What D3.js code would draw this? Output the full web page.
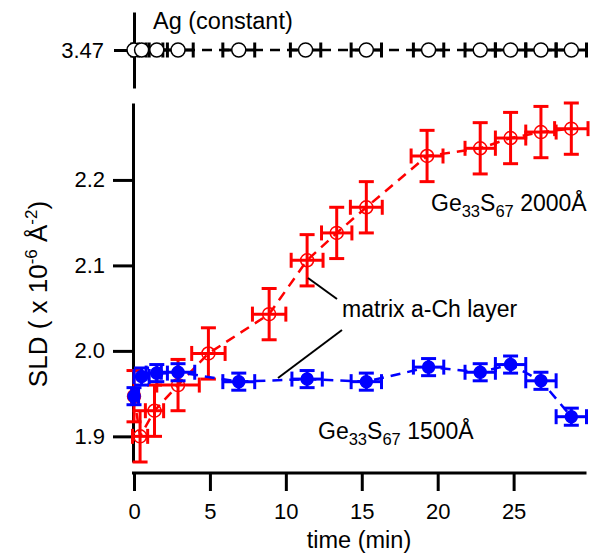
<!DOCTYPE html>
<html><head><meta charset="utf-8">
<script src="https://cdn.jsdelivr.net/npm/d3@7"></script>
<style>
body{margin:0;background:#fff;}
svg{display:block;font-family:"Liberation Sans",Arial,Helvetica,sans-serif;}
</style></head>
<body><svg id="c" width="603" height="558"></svg>
<script>
// ---- data ----
const xTicks = [0, 5, 10, 15, 20, 25];
const yTicks = [1.9, 2.0, 2.1, 2.2];
const agTicks = [3.47];

// Ge33S67 1500Å (filled blue)
const blueTime = [0, 0.5, 1.5, 2.9, 6.9, 11.4, 15.3, 19.4, 22.8, 24.8, 26.8, 28.8];
const blueSLD  = [1.947, 1.970, 1.974, 1.975, 1.964, 1.967, 1.964, 1.981, 1.975, 1.984, 1.965, 1.923];
const blueXErr = [0.3, 0.5, 0.7, 1.1, 1.05, 1.0, 1.0, 1.0, 1.0, 1.0, 1.0, 1.0];
const blueYErr = [0.01, 0.01, 0.01, 0.01, 0.01, 0.01, 0.01, 0.01, 0.01, 0.01, 0.01, 0.01];

// Ge33S67 2000Å (open red)
const redTime = [0, 0.4, 1.35, 2.9, 4.9, 8.9, 11.4, 13.35, 15.3, 19.3, 22.8, 24.8, 26.8, 28.8];
const redSLD  = [1.947, 1.900, 1.930, 1.960, 1.997, 2.043, 2.106, 2.138, 2.168, 2.228, 2.237, 2.249, 2.256, 2.260];
const redXErr = [0.3, 0.5, 0.6, 1.4, 1.1, 1.1, 1.05, 1.0, 1.05, 1.05, 1.0, 1.0, 1.0, 1.1];
const redYErr = [0.03, 0.03, 0.03, 0.03, 0.03, 0.03, 0.03, 0.03, 0.03, 0.03, 0.03, 0.03, 0.03, 0.03];

// Ag (constant)
const agTime = [0, 0.5, 1.5, 2.9, 6.9, 11.3, 15.3, 19.4, 22.8, 24.8, 26.8, 28.8];
const agSLD  = [3.47, 3.47, 3.47, 3.47, 3.47, 3.47, 3.47, 3.47, 3.47, 3.47, 3.47, 3.47];
const agXErr = [0.3, 0.5, 0.7, 1.0, 1.05, 1.0, 1.0, 1.0, 1.0, 1.0, 1.0, 1.0];

// ---- layout ----
const svg = d3.select("#c");
const x = d3.scaleLinear().domain([0, 29.8]).range([134, 586.5]);
const y = d3.scaleLinear().domain([1.87, 2.29]).range([462, 103]);
const yAg = d3.scaleLinear().domain([3.46, 3.48]).range([88, 12]);
const TICKFONT = 22;
const FONT = 23.5;
const CAP = 7.5;

function styleAxis(g){
  g.selectAll("path.domain").attr("stroke","#000").attr("stroke-width",3);
  g.selectAll(".tick line").attr("stroke","#000").attr("stroke-width",3);
  g.selectAll(".tick text").attr("fill","#000").style("font-size",TICKFONT+"px").style("font-family","'Liberation Sans',Arial,sans-serif");
}

// x axis
const gx = svg.append("g").attr("transform","translate(0,473)")
  .call(d3.axisBottom(x).tickValues(xTicks).tickSize(18).tickSizeOuter(0).tickPadding(12).tickFormat(d3.format("d")));
styleAxis(gx);
gx.select("path.domain").attr("d", `M${x(0)-2},0H${x.range()[1]}`);

// main y axis
const gy = svg.append("g").attr("transform","translate(133,0)")
  .call(d3.axisLeft(y).tickValues(yTicks).tickSize(20).tickSizeOuter(0).tickPadding(8).tickFormat(d3.format(".1f")));
styleAxis(gy);

// Ag y axis
const gAg = svg.append("g").attr("transform","translate(134,0)")
  .call(d3.axisLeft(yAg).tickValues(agTicks).tickSize(20).tickSizeOuter(0).tickPadding(10).tickFormat(d3.format(".2f")));
styleAxis(gAg);

// ---- series drawing ----
function drawSeries(times, vals, xe, ye, ys, color, dash, markerFill, markerStroke, r){
  const pts = times.map((t,i)=>({t, v: vals[i], xe: xe[i], ye: ye ? ye[i] : 0}));
  const g = svg.append("g");
  g.append("path").datum(pts)
    .attr("d", d3.line().x(d=>x(d.t)).y(d=>ys(d.v)))
    .attr("fill","none").attr("stroke",color).attr("stroke-width",2.5)
    .attr("stroke-dasharray",dash);
  const eb = g.append("g").attr("stroke",color).attr("stroke-width",3).attr("fill","none");
  pts.forEach(d=>{
    const cx = x(d.t), cy = ys(d.v);
    const x0 = x(Math.max(d.t - d.xe, -0.15)), x1 = x(d.t + d.xe);
    eb.append("line").attr("x1",x0).attr("x2",x1).attr("y1",cy).attr("y2",cy);
    eb.append("line").attr("x1",x0).attr("x2",x0).attr("y1",cy-CAP).attr("y2",cy+CAP);
    eb.append("line").attr("x1",x1).attr("x2",x1).attr("y1",cy-CAP).attr("y2",cy+CAP);
    if (d.ye){
      const y0 = ys(d.v - d.ye), y1 = ys(d.v + d.ye);
      eb.append("line").attr("x1",cx).attr("x2",cx).attr("y1",y0).attr("y2",y1);
      eb.append("line").attr("x1",cx-CAP).attr("x2",cx+CAP).attr("y1",y0).attr("y2",y0);
      eb.append("line").attr("x1",cx-CAP).attr("x2",cx+CAP).attr("y1",y1).attr("y2",y1);
    }
  });
  g.selectAll("circle").data(pts).join("circle")
    .attr("cx",d=>x(d.t)).attr("cy",d=>ys(d.v)).attr("r",r)
    .attr("fill",markerFill).attr("stroke",markerStroke).attr("stroke-width",1.5);
}

drawSeries(agTime, agSLD, agXErr, null, yAg, "#000", "10,7", "#fff", "#000", 7);
drawSeries(redTime, redSLD, redXErr, redYErr, y, "#ff0000", "10,7", "none", "#ff0000", 6.5);
drawSeries(blueTime, blueSLD, blueXErr, blueYErr, y, "#0000ff", "10,7", "#0000ff", "#0000ff", 6);

// ---- annotations ----
svg.append("text").attr("x",153).attr("y",29).style("font-size",FONT+"px").text("Ag (constant)");

svg.append("line").attr("x1",308).attr("y1",278).attr("x2",337).attr("y2",299).attr("stroke","#000").attr("stroke-width",2);
svg.append("line").attr("x1",342).attr("y1",330).attr("x2",278).attr("y2",378).attr("stroke","#000").attr("stroke-width",2);
svg.append("text").attr("x",342).attr("y",317).style("font-size","23px").text("matrix a-Ch layer");

function geLabel(xp, yp, thick){
  const t = svg.append("text").attr("x",xp).attr("y",yp).style("font-size","23px");
  t.append("tspan").text("Ge");
  t.append("tspan").attr("dy",6).style("font-size","16.5px").text("33");
  t.append("tspan").attr("dy",-6).text("S");
  t.append("tspan").attr("dy",6).style("font-size","16.5px").text("67");
  t.append("tspan").attr("dy",-6).text(" " + thick);
}
geLabel(431, 211, "2000Å");
geLabel(318, 439, "1500Å");

// axis titles
svg.append("text").attr("x",359).attr("y",548).attr("text-anchor","middle").style("font-size",FONT+"px").text("time (min)");
const yt = svg.append("text").attr("transform","translate(47,294) rotate(-90)").attr("text-anchor","middle").style("font-size","26px");
yt.append("tspan").text("SLD ( x 10");
yt.append("tspan").attr("dy",-10).style("font-size","17px").text("-6");
yt.append("tspan").attr("dy",10).text(" Å");
yt.append("tspan").attr("dy",-10).style("font-size","17px").text("-2");
yt.append("tspan").attr("dy",10).text(")");
</script></body></html>
